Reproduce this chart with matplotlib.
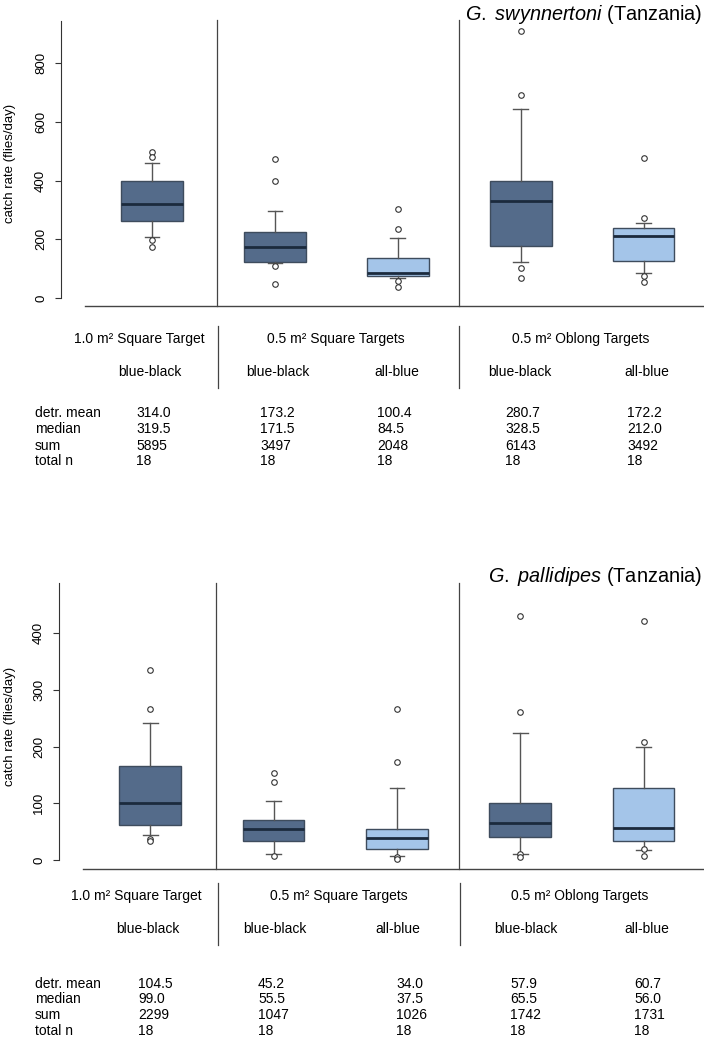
"""Catch rates of tsetse on blue-black and all-blue targets, two species."""

import matplotlib

matplotlib.use("Agg")
import matplotlib.pyplot as plt

plt.rcParams["font.family"] = ["Liberation Sans Narrow", "Liberation Sans", "DejaVu Sans"]
plt.rcParams["mathtext.fontset"] = "custom"
plt.rcParams["mathtext.it"] = "Liberation Sans:italic"
plt.rcParams["mathtext.rm"] = "Liberation Sans"

W, H = 704, 1038

# box order: 1.0 sq blue-black, 0.5 sq blue-black, 0.5 sq all-blue, 0.5 oblong blue-black, 0.5 oblong all-blue
box_kind = ["dark", "dark", "light", "dark", "light"]
groups = ["1.0 m² Square Target", "0.5 m² Square Targets", "0.5 m² Oblong Targets"]
sub_labels = ["blue-black", "blue-black", "all-blue", "blue-black", "all-blue"]
row_labels = ["detr. mean", "median", "sum", "total n"]

# G. swynnertoni
sw_q1 = [263, 123, 76, 176, 126]
sw_med = [322, 174, 87, 330, 213]
sw_q3 = [398, 225, 137, 397, 237]
sw_lo = [208, 119, 68, 123, 85]
sw_hi = [460, 298, 204, 644, 257]
sw_fliers = [[497, 480, 198, 174], [472, 397, 110, 49], [302, 235, 57, 37], [910, 692, 104, 68], [478, 274, 74, 54]]
sw_mean = ["314.0", "173.2", "100.4", "280.7", "172.2"]
sw_median = ["319.5", "171.5", "84.5", "328.5", "212.0"]
sw_sum = ["5895", "3497", "2048", "6143", "3492"]
sw_n = ["18", "18", "18", "18", "18"]

# G. pallidipes
pa_q1 = [62, 33.5, 20, 40, 33.5]
pa_med = [100, 55, 38, 65, 56]
pa_q3 = [166, 71, 55, 101, 126.5]
pa_lo = [44, 10, 7.6, 10, 17.6]
pa_hi = [242, 103.5, 126.5, 225, 199.5]
pa_fliers = [[336, 267, 36.5, 33.5], [153, 138, 6.5], [267, 173, 5, 1], [430.5, 261, 10, 6], [422, 208, 19, 7.6]]
pa_mean = ["104.5", "45.2", "34.0", "57.9", "60.7"]
pa_median = ["99.0", "55.5", "37.5", "65.5", "56.0"]
pa_sum = ["2299", "1047", "1026", "1742", "1731"]
pa_n = ["18", "18", "18", "18", "18"]

FILL = {"dark": "#546b8a", "light": "#a4c5e9"}
EDGE = "#3e4c5d"
MED = "#1b2a3d"
GREY = "#555555"
ARIAL = ["Liberation Sans", "DejaVu Sans"]


def fx(px):
    return px / W


def fy(px):
    return 1 - px / H


def draw_panel(fig, top_px, bottom_px, yaxis_px, ylim, spine_top, ticks, stats, title_it, title_y):
    ax = fig.add_axes([fx(yaxis_px), fy(bottom_px), fx(W - yaxis_px), (bottom_px - top_px) / H])
    q1, med, q3, lo, hi, fliers = stats
    bxp_stats = [
        {"q1": q1[i], "med": med[i], "q3": q3[i], "whislo": lo[i], "whishi": hi[i], "fliers": fliers[i]}
        for i in range(5)
    ]
    parts = ax.bxp(
        bxp_stats,
        positions=range(1, 6),
        widths=0.5,
        patch_artist=True,
        showfliers=True,
        boxprops={"edgecolor": EDGE, "linewidth": 1.0},
        medianprops={"color": MED, "linewidth": 2.0},
        whiskerprops={"color": GREY, "linewidth": 1.0},
        capprops={"color": GREY, "linewidth": 1.0},
        flierprops={"marker": "o", "markersize": 4, "markerfacecolor": "white",
                    "markeredgecolor": "#333333", "markeredgewidth": 0.8},
        zorder=3,
    )
    for patch, kind in zip(parts["boxes"], box_kind):
        patch.set_facecolor(FILL[kind])
    for cap in parts["caps"]:
        xs = cap.get_xdata()
        c = (xs[0] + xs[1]) / 2
        cap.set_xdata([c - 0.06, c + 0.06])

    ax.set_xlim(0.26, 5.49)
    ax.set_ylim(*ylim)
    for side in ["top", "right", "bottom"]:
        ax.spines[side].set_visible(False)
    ax.spines["left"].set_bounds(0, spine_top)
    ax.spines["left"].set_color("#333333")
    ax.set_xticks([])
    ax.set_yticks(ticks)
    ax.set_yticklabels([str(t) for t in ticks], rotation=90, va="center", fontsize=9.5, family=ARIAL)
    ax.tick_params(axis="y", length=4, color="#333333", pad=6)
    ax.set_ylabel("catch rate (flies/day)", fontsize=9.5, family=ARIAL)
    ax.yaxis.set_label_coords(-(yaxis_px - 16) / (W - yaxis_px), 0.5)
    ax.plot([0.455, 5.49], [ylim[0], ylim[0]], color="#444444", linewidth=1.0, clip_on=False)
    for sep in [1.53, 3.50]:
        ax.plot([sep, sep], [ylim[0], ylim[1]], color="#444444", linewidth=0.9, clip_on=False)
    fig.text(fx(702), fy(title_y), rf"$\it{{{title_it}}}$ (Tanzania)", ha="right", va="center",
             fontsize=14.3, family=ARIAL)
    return ax


def draw_table(fig, head_xs, head_y, sub_xs, sub_y, sep_xs, sep_top, sep_bot, row_ys, col_xs, rows):
    kw = {"fontsize": 10, "va": "center"}
    for hx, lab in zip(head_xs, groups):
        fig.text(fx(hx), fy(head_y), lab, ha="center", **kw)
    for sx, lab in zip(sub_xs, sub_labels):
        fig.text(fx(sx), fy(sub_y), lab, ha="center", **kw)
    for sep in sep_xs:
        fig.add_artist(plt.Line2D([fx(sep), fx(sep)], [fy(sep_top), fy(sep_bot)],
                                  color="#444444", linewidth=0.9, transform=fig.transFigure))
    for ry, lab, vals in zip(row_ys, row_labels, rows):
        fig.text(fx(35), fy(ry), lab, ha="left", **kw)
        for cx, v in zip(col_xs, vals):
            fig.text(fx(cx), fy(ry), v, ha="left", **kw)


fig = plt.figure(figsize=(W / 100, H / 100), dpi=100)

draw_panel(fig, 20, 306, 61, (-27, 947), 942, [0, 200, 400, 600, 800],
           (sw_q1, sw_med, sw_q3, sw_lo, sw_hi, sw_fliers), r"G.\ swynnertoni", 15)
draw_table(fig, [139, 336, 581], 339, [150, 278, 397, 520, 647], 372, [218, 459], 326, 388,
           [413, 429, 446, 461], [136, 260, 377, 505, 627],
           [sw_mean, sw_median, sw_sum, sw_n])

draw_panel(fig, 583, 869, 59, (-16, 489), 489, [0, 100, 200, 300, 400],
           (pa_q1, pa_med, pa_q3, pa_lo, pa_hi, pa_fliers), r"G.\ pallidipes", 576)
draw_table(fig, [136, 339, 580], 896, [148, 275, 398, 526, 647], 929, [218, 460], 883, 945,
           [984, 999, 1015, 1031], [138, 258, 396, 510, 634],
           [pa_mean, pa_median, pa_sum, pa_n])

fig.savefig("out.png", dpi=100)
